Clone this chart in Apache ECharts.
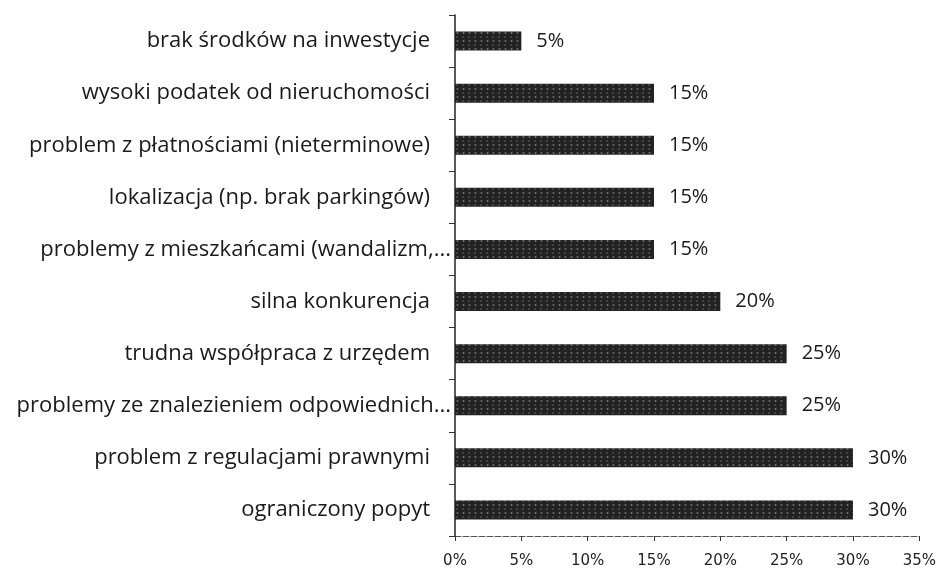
<!DOCTYPE html>
<html>
<head>
<meta charset="utf-8">
<script src="https://cdn.jsdelivr.net/npm/echarts@6/dist/echarts.min.js"></script>
<style>
  html, body { margin: 0; padding: 0; background: #fff; }
  #main { width: 939px; height: 569px; }
</style>
</head>
<body>
<div id="main"></div>
<script>
// categories from bottom to top (category axis starts at the bottom)
var categories = [
  'ograniczony popyt',
  'problem z regulacjami prawnymi',
  'problemy ze znalezieniem odpowiednich...',
  'trudna współpraca z urzędem',
  'silna konkurencja',
  'problemy z mieszkańcami (wandalizm,...',
  'lokalizacja (np. brak parkingów)',
  'problem z płatnościami (nieterminowe)',
  'wysoki podatek od nieruchomości',
  'brak środków na inwestycje'
];
var values = [30, 30, 25, 25, 20, 15, 15, 15, 15, 5];
var xTicks = [0, 5, 10, 15, 20, 25, 30, 35];

var chart = echarts.init(document.getElementById('main'));

chart.setOption({
  backgroundColor: '#fff',
  animation: false,
  textStyle: { fontFamily: '"Open Sans", sans-serif' },
  grid: { left: 455, right: 19, top: 15, bottom: 33, containLabel: false },
  xAxis: {
    type: 'value',
    min: xTicks[0],
    max: xTicks[xTicks.length - 1],
    interval: 5,
    splitLine: { show: false },
    axisLine: { show: true, lineStyle: { color: '#555', width: 1, type: [6, 2] } },
    axisTick: { show: true, length: 5, inside: false, lineStyle: { color: '#333' } },
    axisLabel: {
      color: '#222',
      fontSize: 15,
      fontFamily: '"DejaVu Sans", sans-serif',
      margin: 18,
      formatter: function (v) { return v + '%'; }
    }
  },
  yAxis: {
    type: 'category',
    data: categories,
    axisLine: { show: true, lineStyle: { color: '#222', width: 1.5 } },
    axisTick: { show: true, length: 6, lineStyle: { color: '#333' } },
    axisLabel: {
      margin: 4,
      formatter: function (v) {
        return v.slice(-3) === '...' ? '{t|' + v + '}' : '{n|' + v + '}';
      },
      rich: {
        n: { color: '#1a1a1a', fontSize: 22, padding: [0, 21, 0, 0] },
        t: { color: '#1a1a1a', fontSize: 22 }
      }
    }
  },
  series: [{
    type: 'bar',
    data: values,
    barWidth: 19,
    itemStyle: {
      color: '#222',
      decal: {
        symbol: 'rect',
        symbolSize: 0.6,
        color: 'rgba(255,255,255,0.5)',
        dashArrayX: [[2, 4], [3, 3]],
        dashArrayY: [2, 2],
        rotation: 0
      }
    },
    label: {
      show: true,
      position: 'right',
      distance: 15,
      color: '#1a1a1a',
      fontSize: 20,
      formatter: '{c}%'
    }
  }]
});
</script>
</body>
</html>
